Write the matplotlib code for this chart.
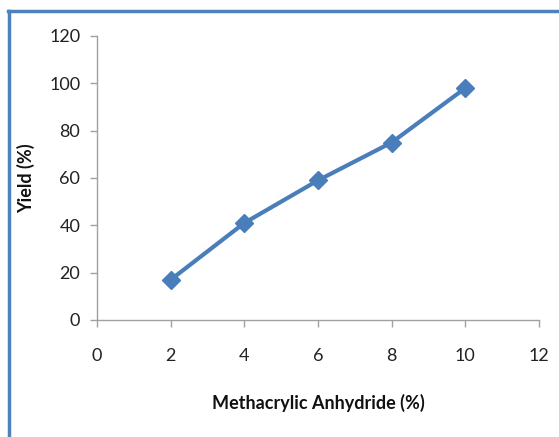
import matplotlib
matplotlib.use("Agg")
import matplotlib.pyplot as plt
from matplotlib.lines import Line2D

x_vals = [2, 4, 6, 8, 10]
yield_vals = [17, 41, 59, 75, 98]
x_ticks = [0, 2, 4, 6, 8, 10, 12]
y_ticks = [0, 20, 40, 60, 80, 100, 120]

plt.rcParams['font.family'] = ['Lato', 'DejaVu Sans']

W, H = 559, 437
fig = plt.figure(figsize=(W / 100, H / 100), dpi=100)
ax = fig.add_axes([97 / W, (H - 320) / H, (539 - 97) / W, (320 - 36) / H])

blue = '#4A7EBB'
ax.plot(x_vals, yield_vals, color=blue, lw=3, marker='D', markersize=9,
        markerfacecolor=blue, markeredgecolor=blue, solid_joinstyle='round')

ax.set_xlim(0, 12)
ax.set_ylim(0, 120)
ax.set_xticks(x_ticks)
ax.set_yticks(y_ticks)
ax.tick_params(axis='both', direction='out', length=5, width=1, color='#A0A0A0',
               labelsize=13, labelcolor='#222222')
ax.tick_params(axis='x', pad=15)
ax.tick_params(axis='y', pad=7)
for s in ['top', 'right']:
    ax.spines[s].set_visible(False)
for s in ['left', 'bottom']:
    ax.spines[s].set_color('#A0A0A0')
    ax.spines[s].set_linewidth(1)

ax.set_xlabel('Methacrylic Anhydride (%)', fontsize=13, fontweight='bold',
              color='#111111', labelpad=22)
ax.set_ylabel('Yield (%)', fontsize=13, fontweight='bold', color='#111111',
              labelpad=10)

# outer frame (top and left blue borders)
fig.add_artist(Line2D([8 / W, 1.0], [1 - 11 / H, 1 - 11 / H], color='#4F81BD',
                      lw=2.5, transform=fig.transFigure))
fig.add_artist(Line2D([8.5 / W, 8.5 / W], [0, 1 - 11 / H], color='#4F81BD',
                      lw=2.5, transform=fig.transFigure))

fig.savefig('out.png', dpi=100)
